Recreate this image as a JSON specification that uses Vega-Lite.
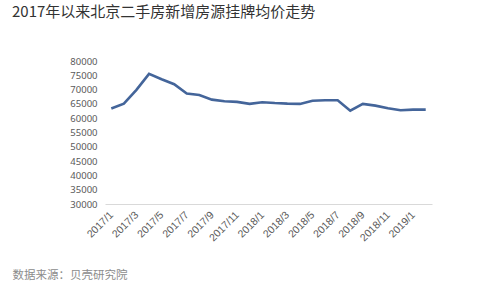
{
  "$schema": "https://vega.github.io/schema/vega-lite/v6.json",
  "width": 327,
  "height": 143,
  "autosize": {"type": "none"},
  "padding": {"left": 105, "top": 61, "right": 68, "bottom": 79},
  "background": "white",
  "title": {
    "text": "2017年以来北京二手房新增房源挂牌均价走势",
    "anchor": "start",
    "frame": "group",
    "dx": -93,
    "offset": 36,
    "font": "Noto Sans CJK SC",
    "fontSize": 15,
    "fontWeight": "normal",
    "color": "#333333"
  },
  "config": {
    "view": {"stroke": null},
    "font": "Noto Sans CJK SC"
  },
  "data": {
    "values": [
      {"month": "2017/1", "price": 63400},
      {"month": "2017/2", "price": 65100},
      {"month": "2017/3", "price": 69900},
      {"month": "2017/4", "price": 75500},
      {"month": "2017/5", "price": 73600},
      {"month": "2017/6", "price": 71900},
      {"month": "2017/7", "price": 68600},
      {"month": "2017/8", "price": 68100},
      {"month": "2017/9", "price": 66500},
      {"month": "2017/10", "price": 65900},
      {"month": "2017/11", "price": 65700},
      {"month": "2017/12", "price": 65000},
      {"month": "2018/1", "price": 65600},
      {"month": "2018/2", "price": 65300},
      {"month": "2018/3", "price": 65100},
      {"month": "2018/4", "price": 65000},
      {"month": "2018/5", "price": 66100},
      {"month": "2018/6", "price": 66300},
      {"month": "2018/7", "price": 66300},
      {"month": "2018/8", "price": 62600},
      {"month": "2018/9", "price": 65000},
      {"month": "2018/10", "price": 64400},
      {"month": "2018/11", "price": 63500},
      {"month": "2018/12", "price": 62800},
      {"month": "2019/1", "price": 63000},
      {"month": "2019/2", "price": 63000}
    ]
  },
  "mark": {"type": "line", "color": "#44659a", "strokeWidth": 2.6, "strokeJoin": "miter"},
  "encoding": {
    "x": {
      "field": "month",
      "type": "ordinal",
      "sort": null,
      "scale": {"type": "point", "padding": 0.5},
      "axis": {
        "values": ["2017/1", "2017/3", "2017/5", "2017/7", "2017/9", "2017/11", "2018/1", "2018/3", "2018/5", "2018/7", "2018/9", "2018/11", "2019/1"],
        "labelAngle": -45,
        "labelAlign": "right",
        "labelBaseline": "middle",
        "labelPadding": 9,
        "labelFontSize": 10.5,
        "labelColor": "#595959",
        "labelFont": "Liberation Sans",
        "ticks": false,
        "domainColor": "#d9d9d9",
        "domainWidth": 1,
        "grid": false,
        "title": "数据来源：贝壳研究院",
        "titleAnchor": "start",
        "titleAlign": "left",
        "titleBaseline": "alphabetic",
        "titleX": -93,
        "titleY": 74,
        "titleFontSize": 11.5,
        "titleFontWeight": "normal",
        "titleColor": "#8c8c8c",
        "titleFont": "Noto Sans CJK SC"
      }
    },
    "y": {
      "field": "price",
      "type": "quantitative",
      "scale": {"domain": [30000, 80000], "nice": false, "zero": false},
      "axis": {
        "values": [30000, 35000, 40000, 45000, 50000, 55000, 60000, 65000, 70000, 75000, 80000],
        "format": "d",
        "grid": false,
        "domain": false,
        "ticks": false,
        "labelPadding": 8,
        "labelFontSize": 9.5,
        "labelColor": "#595959",
        "labelFont": "Noto Sans",
        "title": null
      }
    }
  }
}
